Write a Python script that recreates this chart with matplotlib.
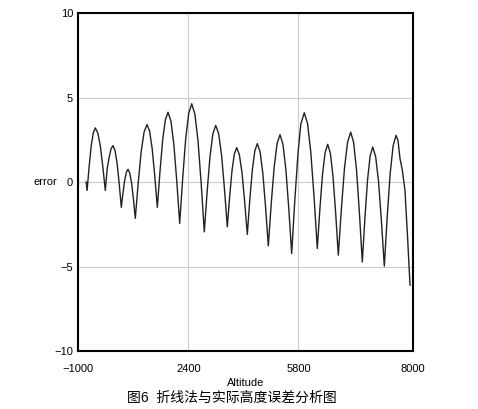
import numpy as np
import matplotlib.pyplot as plt

plt.rcParams['font.family'] = ['Liberation Sans', 'Noto Sans CJK SC', 'DejaVu Sans']

# altitude / error values
altitude = [-750, -720, -657, -593, -530, -466, -389, -312, -235, -158,
            -99, -40, 20, 79, 143, 207, 271, 335,
            387, 439, 490, 542, 598, 655, 711, 767,
            857, 948, 1038, 1128, 1208, 1287, 1367, 1446,
            1529, 1611, 1694, 1776, 1866, 1956, 2046, 2136,
            2229, 2322, 2414, 2507, 2604, 2701, 2798, 2895,
            2983, 3071, 3159, 3247, 3336, 3426, 3515, 3604,
            3677, 3749, 3822, 3894, 3976, 4058, 4139, 4221,
            4298, 4376, 4453, 4530, 4615, 4700, 4784, 4869,
            4959, 5050, 5140, 5230, 5320, 5410, 5500, 5590,
            5687, 5784, 5845, 5911, 5974, 6036, 6099, 6161,
            6211, 6261, 6311, 6361, 6412, 6463, 6514, 6565,
            6625, 6684, 6744, 6803, 6859, 6915, 6970, 7026,
            7076, 7126, 7176, 7226, 7282, 7338, 7393, 7449,
            7505, 7562, 7618, 7674, 7712, 7750, 7795, 7846, 7898, 7943]
error = [0.0, -0.5, 0.91, 2.13, 2.90, 3.2, 2.90, 2.13, 0.91, -0.5,
         0.8, 1.45, 1.97, 2.15, 1.86, 1.09, -0.11, -1.5,
         -0.65, 0.10, 0.57, 0.75, 0.52, -0.09, -1.05, -2.15,
         -0.04, 1.79, 2.96, 3.4, 3.01, 1.98, 0.36, -1.5,
         0.64, 2.50, 3.68, 4.13, 3.60, 2.22, 0.05, -2.45,
         0.24, 2.58, 4.06, 4.63, 4.02, 2.43, -0.07, -2.95,
         -0.56, 1.52, 2.85, 3.35, 2.87, 1.61, -0.37, -2.65,
         -0.87, 0.67, 1.66, 2.03, 1.62, 0.54, -1.15, -3.1,
         -1.06, 0.71, 1.84, 2.27, 1.79, 0.52, -1.48, -3.78,
         -1.28, 0.89, 2.27, 2.8, 2.24, 0.76, -1.56, -4.23,
         -1.06, 1.68, 3.43, 4.1, 3.46, 1.77, -0.88, -3.93,
         -1.59, 0.44, 1.74, 2.23, 1.71, 0.33, -1.84, -4.33,
         -1.56, 0.84, 2.37, 2.95, 2.34, 0.72, -1.81, -4.73,
         -2.15, 0.10, 1.53, 2.07, 1.51, 0.03, -2.30, -4.98,
         -2.04, 0.52, 2.14, 2.76, 2.46, 1.4, 0.7, -0.5, -3.4, -6.1]

x_ticks = [-1000, 2400, 5800, 8000]
y_ticks = [-10, -5, 0, 5, 10]

# the original axis is stretched past 5800
K = 1.605

def fwd(x):
    x = np.asarray(x, dtype=float)
    return np.where(x <= 5800, x, 5800 + (x - 5800) * K)

def inv(y):
    y = np.asarray(y, dtype=float)
    return np.where(y <= 5800, y, 5800 + (y - 5800) / K)

fig = plt.figure(figsize=(4.78, 4.09), dpi=100)
ax = fig.add_axes([0.1632, 0.1418, 0.7008, 0.8264])
ax.set_xscale('function', functions=(fwd, inv))

ax.plot(altitude, error, color='#222222', linewidth=1.0)

ax.set_xlim(-1000, 8000)
ax.set_ylim(-10, 10)
ax.set_xticks(x_ticks)
ax.set_yticks(y_ticks)
ax.set_xticklabels([str(t).replace('-', '\u2212') for t in x_ticks])
ax.minorticks_off()
ax.grid(True, color='#cccccc', linewidth=0.8)
ax.tick_params(length=0, labelsize=8)
ax.tick_params(axis='x', pad=9)
ax.tick_params(axis='y', pad=3.5)
for s in ax.spines.values():
    s.set_linewidth(1.5)

ax.set_xlabel("Altitude", fontsize=8, labelpad=3)
ax.set_ylabel("error", fontsize=8, rotation=0, ha='right', va='center')
ax.yaxis.set_label_coords(-0.063, 0.5)

fig.text(0.485, 0.027, "图6  折线法与实际高度误差分析图", fontsize=10,
         ha='center', va='center')

plt.savefig("out.png")
